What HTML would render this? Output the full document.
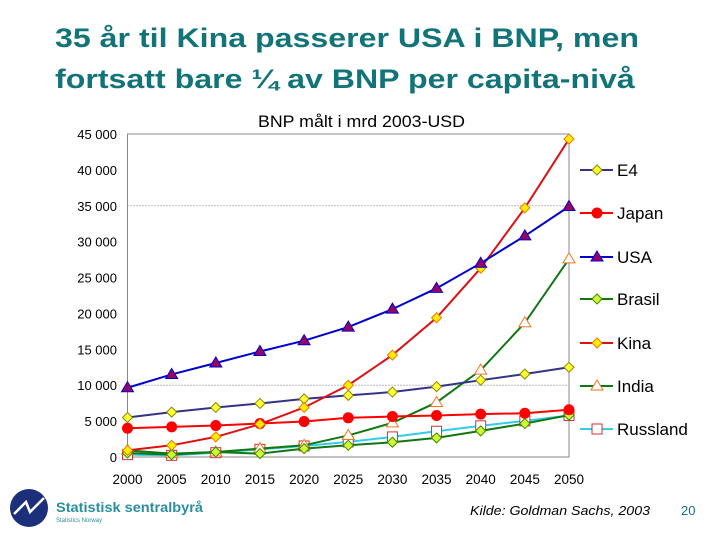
<!DOCTYPE html>
<html><head><meta charset="utf-8"><style>
body{margin:0;background:#fff;width:720px;height:540px;overflow:hidden;font-family:"Liberation Sans",sans-serif}
.title{position:absolute;left:55px;top:18px;font-size:27px;font-weight:bold;color:#127479;line-height:41px;transform:scaleX(1.19);transform-origin:0 0;white-space:nowrap}
</style></head><body>
<div class="title">35 år til Kina passerer USA i BNP, men<br>fortsatt bare ¼ av BNP per capita-nivå</div>
<svg width="720" height="540" style="position:absolute;left:0;top:0" id="chart">
<text x="258" y="127" font-size="17" textLength="207" lengthAdjust="spacingAndGlyphs" fill="#000">BNP målt i mrd 2003-USD</text>
<g id="grid"></g><g id="lines"></g><g id="legend"></g>
<g>
<circle cx="29" cy="508" r="19" fill="#1c2f7a"/>
<path d="M14 514 L26 502 L30 512 L44 498" stroke="#fff" stroke-width="2.5" fill="none"/>
<text x="56" y="512" font-size="14" font-weight="bold" textLength="147" lengthAdjust="spacingAndGlyphs" fill="#2a8f9c">Statistisk sentralbyrå</text>
<text x="56" y="522" font-size="6" fill="#2a8f9c">Statistics Norway</text>
</g>
<text x="470" y="515" font-size="13" font-style="italic" textLength="180" lengthAdjust="spacingAndGlyphs" fill="#000">Kilde: Goldman Sachs, 2003</text>
<text x="681" y="515" font-size="13" fill="#127479">20</text>
</svg>
<script>
const years=[2000,2005,2010,2015,2020,2025,2030,2035,2040,2045,2050];
const yTicks=[0,5000,10000,15000,20000,25000,30000,35000,40000,45000];
const yTickLabels=["0","5 000","10 000","15 000","20 000","25 000","30 000","35 000","40 000","45 000"];
const seriesNames=["E4","Japan","USA","Brasil","Kina","India","Russland"];
const e4=[5500,6250,6900,7460,8100,8580,9050,9800,10700,11560,12500];
const japan=[4000,4200,4380,4660,4940,5460,5640,5780,5970,6100,6580];
const usa=[9650,11500,13100,14700,16200,18100,20600,23500,27000,30800,34900];
const brasil=[560,330,700,470,1170,1630,2050,2660,3640,4660,5830];
const kina=[930,1630,2800,4570,6900,10000,14200,19400,26300,34700,44300];
const india=[930,470,700,1170,1630,3000,4760,7600,12100,18700,27600];
const russland=[330,230,600,1070,1540,2100,2800,3590,4340,5030,5780];
const ns="http://www.w3.org/2000/svg";
const X0=127.5,X1=569,Y0=457,Y1=134;
const xs=y=>X0+(y-2000)/50*(X1-X0);
const ys=v=>Y0-v/45000*(Y0-Y1);
function mk(tag,at,par){const e=document.createElementNS(ns,tag);for(const k in at)e.setAttribute(k,at[k]);par.appendChild(e);return e;}
const grid=document.getElementById('grid');
let fr=mk('rect',{x:X0,y:Y1,width:X1-X0,height:Y0-Y1,fill:'none',stroke:'#888','stroke-width':1},grid);


yTicks.forEach((t,i)=>{
 if(t===10000||t===35000){const g=mk('line',{x1:X0,x2:X1,y1:ys(t),y2:ys(t),stroke:'#777','stroke-dasharray':'1,2'},grid);
 
 }
 const tx=mk('text',{x:117,y:ys(t)+5,'font-size':13,'text-anchor':'end'},grid);tx.textContent=yTickLabels[i];
 
 
});
years.forEach(y=>{const tx=mk('text',{x:xs(y),y:484,'font-size':13.5,'text-anchor':'middle'},grid);tx.textContent=y;
 
 });
const styles=[
 {c:'#333388',m:'diamond',f:'#ffff33',s:'#888800',d:e4},
 {c:'#ff0000',m:'circle',f:'#ff0000',s:'#ff0000',d:japan},
 {c:'#0000cc',m:'tri',f:'#990066',s:'#0000cc',d:usa},
 {c:'#117711',m:'diamond',f:'#ccff33',s:'#448800',d:brasil},
 {c:'#dd1111',m:'diamond',f:'#ffee00',s:'#ee7700',d:kina},
 {c:'#117711',m:'tri',f:'#ffffff',s:'#ee7722',d:india},
 {c:'#33ccee',m:'square',f:'#ffffff',s:'#cc3333',d:russland}];
function marker(par,st,x,y){
 let e;
 if(st.m==='diamond')e=mk('path',{d:`M${x} ${y-5}L${x+5} ${y}L${x} ${y+5}L${x-5} ${y}Z`},par);
 else if(st.m==='circle')e=mk('circle',{cx:x,cy:y,r:5},par);
 else if(st.m==='tri')e=mk('path',{d:`M${x} ${y-6}L${x+6} ${y+4}L${x-6} ${y+4}Z`},par);
 else e=mk('rect',{x:x-5,y:y-5,width:10,height:10},par);
 e.setAttribute('fill',st.f);e.setAttribute('stroke',st.s);e.setAttribute('stroke-width',1);
 return e;
}
const lines=document.getElementById('lines'),leg=document.getElementById('legend');
const order=[6,5,3,1,0,4,2];
order.forEach(i=>{
 const st=styles[i];
 const g=mk('g',{},lines);
 
 
 mk('polyline',{points:st.d.map((v,j)=>xs(years[j])+','+ys(v)).join(' '),fill:'none',stroke:st.c,'stroke-width':2},g);
 st.d.forEach((v,j)=>{const m=marker(g,st,xs(years[j]),ys(v));
  
  });
});
const legY=[170,213,257,299,343,386,429];
styles.forEach((st,i)=>{
 const g=mk('g',{},leg);
 
 
 mk('line',{x1:580,x2:613,y1:legY[i],y2:legY[i],stroke:st.c,'stroke-width':2},g);
 marker(g,st,597,legY[i]);
 const t=mk('text',{x:617,y:legY[i]+6,'font-size':17},g);t.textContent=seriesNames[i];
});
</script>
</body></html>
